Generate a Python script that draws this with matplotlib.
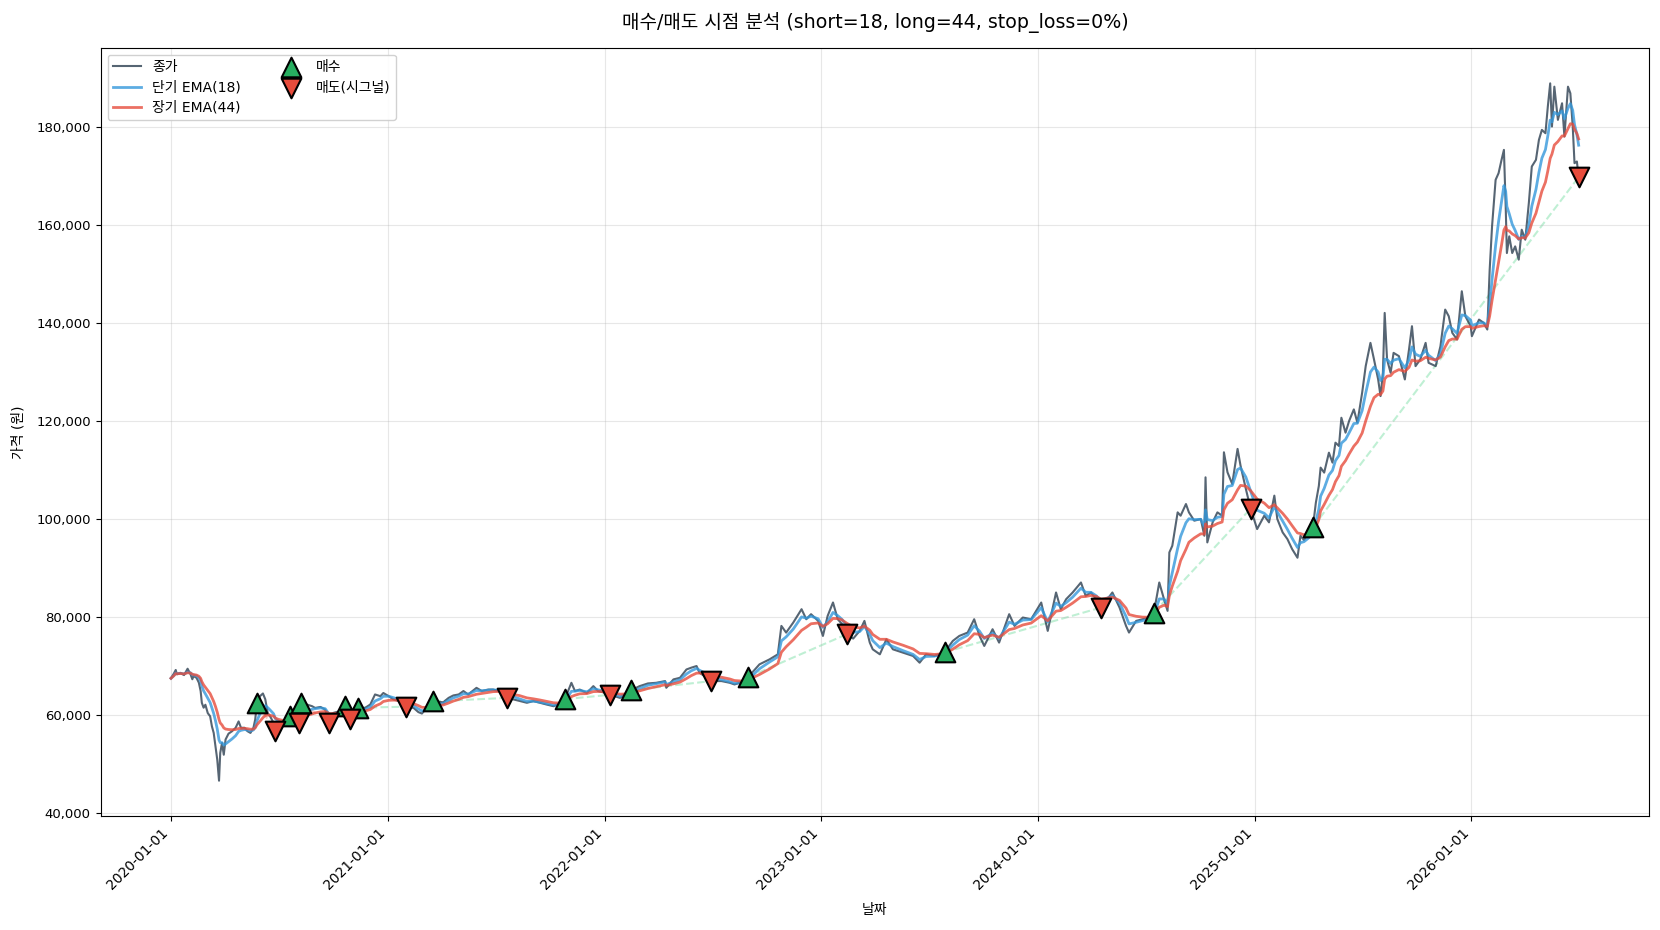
import matplotlib
matplotlib.use("Agg")
import matplotlib.pyplot as plt
import matplotlib.dates as mdates
from matplotlib.ticker import FuncFormatter
import pandas as pd
import numpy as np

plt.rcParams['font.family'] = ['DejaVu Sans', 'Noto Sans CJK KR']
plt.rcParams['axes.unicode_minus'] = False

# ---------------- data ----------------
start_date = "2020-01-01"
SHORT, LONG = 18, 44

close_days = [
    0, 5, 8, 10, 16, 22, 28, 33, 36, 38, 43, 47, 50, 52, 55, 58, 62, 66, 69, 72,
    75, 78, 81, 83, 86, 89, 92, 97, 103, 109, 114, 118, 124, 129, 134, 139, 142, 145, 150, 155,
    159, 163, 167, 173, 176, 181, 187, 193, 197, 201, 207, 212, 216, 219, 229, 238, 243, 252, 260, 267,
    274, 285, 294, 302, 309, 316, 327, 336, 344, 353, 358, 367, 375, 384, 389, 396, 409, 417, 423, 431,
    442, 459, 468, 476, 485, 493, 501, 515, 524, 535, 543, 552, 560, 567, 588, 600, 611, 622, 633, 645,
    655, 664, 675, 681, 689, 701, 712, 720, 730, 740, 757, 767, 776, 790, 804, 818, 833, 835, 847, 858,
    869, 877, 886, 891, 900, 911, 928, 942, 950, 962, 973, 992, 1009, 1023, 1029, 1037, 1049, 1063, 1071, 1079,
    1091, 1099, 1107, 1116, 1124, 1131, 1139, 1150, 1161, 1169, 1178, 1183, 1195, 1206, 1217, 1234, 1251, 1262, 1273, 1287,
    1304, 1318, 1329, 1343, 1354, 1363, 1371, 1385, 1396, 1413, 1422, 1436, 1450, 1467, 1478, 1492, 1500, 1509, 1520, 1534,
    1542, 1551, 1560, 1568, 1587, 1599, 1610, 1615, 1627, 1638, 1648, 1657, 1666, 1674, 1680, 1683, 1688, 1697, 1702, 1711,
    1716, 1725, 1736, 1742, 1744, 1747, 1756, 1764, 1772, 1775, 1781, 1789, 1798, 1803, 1812, 1820, 1831, 1843, 1851, 1860,
    1865, 1874, 1882, 1890, 1899, 1904, 1910, 1917, 1925, 1930, 1935, 1938, 1944, 1952, 1958, 1963, 1969, 1973, 1980, 1986,
    1994, 2000, 2008, 2014, 2022, 2028, 2035, 2039, 2043, 2046, 2050, 2056, 2061, 2070, 2080, 2087, 2092, 2098, 2106, 2115,
    2120, 2132, 2140, 2148, 2154, 2160, 2168, 2176, 2182, 2191, 2193, 2205, 2213, 2219, 2223, 2227, 2233, 2238, 2243, 2247,
    2250, 2252, 2256, 2261, 2266, 2272, 2277, 2283, 2289, 2294, 2301, 2306, 2311, 2317, 2321, 2325, 2328, 2332, 2338, 2345,
    2349, 2355, 2359, 2363, 2366, 2370, 2373,
]
close_vals = [
    67400, 68400, 69100, 68200, 68500, 68050, 69350, 68200, 67200, 67850, 67500, 66500, 64800, 62400, 61400, 62000, 60300, 59650, 57600, 56250,
    53500, 50800, 46500, 52150, 54200, 51800, 54900, 56100, 56600, 57300, 58600, 57300, 57300, 56600, 56250, 57300, 59000, 62400, 63750, 64300,
    63100, 60350, 59650, 58300, 56600, 57300, 57600, 58300, 59000, 59800, 60000, 59300, 58200, 62400, 62050, 61700, 61350, 61550, 61000, 58300,
    60350, 60700, 61700, 59000, 60500, 61400, 61350, 62050, 64100, 63750, 64400, 63750, 63100, 62750, 62050, 61600, 61350, 60500, 60200, 61350,
    62700, 62500, 63400, 63900, 64100, 64800, 64100, 65450, 64800, 65100, 65100, 64800, 64400, 63400, 62750, 62400, 62750, 62400, 62050, 61700,
    62200, 63140, 66480, 64800, 65100, 64400, 65800, 64800, 64500, 64030, 63400, 64300, 64980, 65800, 66350, 66480, 66830, 65460, 67170, 67500,
    69200, 69560, 69900, 68530, 67800, 66830, 66830, 66480, 66140, 66600, 67650, 70240, 71260, 72290, 78090, 76720, 78770, 81500, 79450, 80480,
    79110, 76040, 80140, 82870, 79450, 78500, 76380, 75500, 77070, 79110, 74680, 73310, 72290, 75360, 73310, 72630, 71950, 70580, 72290, 71950,
    72700, 75030, 76050, 76730, 79450, 76050, 74000, 77410, 74680, 80480, 78090, 79800, 79450, 82860, 77070, 84910, 81500, 83540, 84910, 86950,
    84220, 84910, 83500, 81840, 84910, 81840, 78090, 76730, 79110, 79450, 79800, 80820, 86950, 83540, 81160, 93080, 94450, 101260, 100580, 102960,
    101260, 99560, 99900, 96490, 108410, 95130, 99220, 101260, 100580, 113520, 109440, 107050, 114210, 110800, 106030, 102010, 97850, 100580, 99220, 104670,
    99900, 97170, 95810, 93760, 92000, 96490, 95600, 97000, 98260, 103260, 106650, 110390, 109370, 113440, 111410, 115480, 114800, 120570, 117520, 119900,
    122270, 119560, 125670, 131100, 135850, 132460, 128380, 124990, 129740, 141960, 132460, 129740, 133810, 133140, 128380, 134490, 139250, 131100, 132460, 135850,
    131780, 131100, 135170, 142640, 141280, 137890, 136530, 146380, 141280, 139250, 137210, 140600, 139930, 138570, 150790, 159620, 169120, 170480, 173200, 175230,
    163690, 154180, 157580, 154180, 155540, 152830, 158940, 156900, 164370, 171840, 173200, 177270, 179310, 178630, 184060, 188810, 179990, 188130, 181350, 184740,
    177950, 188130, 186780, 179990, 172520, 172860, 169670,
]

buy_days = [145, 201, 219, 294, 316, 442, 664, 776, 973, 1304, 1657, 1925]
buy_prices = [62400, 59800, 62400, 61700, 61400, 62700, 63140, 64980, 67650, 72700, 80820, 98260]
sell_days = [176, 216, 267, 302, 396, 567, 740, 911, 1139, 1568, 1820, 2373]
sell_prices = [56600, 58200, 58300, 59000, 61600, 63400, 64030, 66830, 76380, 81840, 102010, 169670]

# ---------------- derived series ----------------
t0 = pd.Timestamp(start_date)
dates = t0 + pd.to_timedelta(close_days, unit="D")
close = pd.Series(close_vals, index=dates, dtype=float)


def ema_halflife_days(span):
    alpha = 2.0 / (span + 1)
    hl_trading = np.log(2) / -np.log(1 - alpha)
    return hl_trading * 365.0 / 248.0


ema_s = close.ewm(halflife=pd.Timedelta(days=ema_halflife_days(SHORT)), times=dates).mean()
ema_l = close.ewm(halflife=pd.Timedelta(days=ema_halflife_days(LONG)), times=dates).mean()

buy_dates = t0 + pd.to_timedelta(buy_days, unit="D")
sell_dates = t0 + pd.to_timedelta(sell_days, unit="D")

# ---------------- plot ----------------
fig = plt.figure(figsize=(16.6, 9.3), dpi=100)
ax = fig.add_axes([0.0606, 0.1226, 0.9328, 0.8262])

ax.plot(close.index, close.values, color="#2c3e50", lw=1.5, alpha=0.8, label="종가", zorder=2)
ax.plot(ema_s.index, ema_s.values, color="#3498db", lw=2, alpha=0.8, label=f"단기 EMA({SHORT})", zorder=3)
ax.plot(ema_l.index, ema_l.values, color="#e74c3c", lw=2, alpha=0.8, label=f"장기 EMA({LONG})", zorder=3)

for bd, bp, sd, sp in zip(buy_dates, buy_prices, sell_dates, sell_prices):
    col = "#2ecc71" if sp > bp else "#e74c3c"
    ax.plot([bd, sd], [bp, sp], ls="--", color=col, alpha=0.3, lw=1.5, zorder=1)

ax.scatter(buy_dates, buy_prices, marker="^", s=200, color="#27ae60",
           edgecolors="black", linewidths=1.5, zorder=5, label="매수")
ax.scatter(sell_dates, sell_prices, marker="v", s=200, color="#e74c3c",
           edgecolors="black", linewidths=1.5, zorder=5, label="매도(시그널)")

ax.set_ylim(39300, 196100)
ax.xaxis.set_major_locator(mdates.YearLocator())
ax.xaxis.set_major_formatter(mdates.DateFormatter("%Y-%m-%d"))
ax.yaxis.set_major_formatter(FuncFormatter(lambda v, p: f"{v:,.0f}"))
plt.setp(ax.get_xticklabels(), rotation=45, ha="right")
ax.tick_params(axis="y", labelsize=9.5)
ax.tick_params(axis="x", labelsize=10)
ax.grid(True, alpha=0.3)

ax.set_title(f"매수/매도 시점 분석 (short={SHORT}, long={LONG}, stop_loss=0%)", fontsize=13.7, pad=14)
ax.set_xlabel("날짜", fontsize=10, labelpad=8)
ax.set_ylabel("가격 (원)", fontsize=10, labelpad=8)
ax.legend(loc="upper left", ncol=2, fontsize=10, framealpha=0.9, labelspacing=0.45,
          columnspacing=2.6)

fig.savefig("out.png", dpi=100)
